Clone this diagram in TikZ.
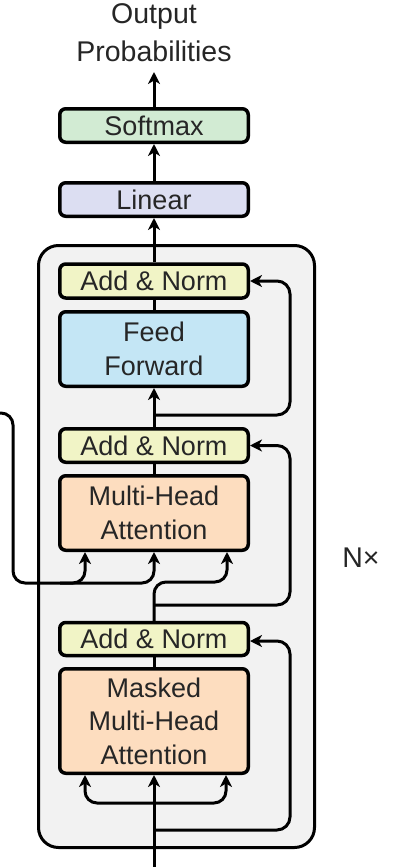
\documentclass[tikz,border=0pt]{standalone}
\usepackage{fontspec}
\setmainfont{Liberation Sans}
\usetikzlibrary{arrows.meta,calc}
\definecolor{txt}{HTML}{262626}
\definecolor{smfill}{HTML}{D2EBD3}
\definecolor{linfill}{HTML}{DCDEF2}
\definecolor{anfill}{HTML}{F1F4C6}
\definecolor{fffill}{HTML}{C4E6F5}
\definecolor{attfill}{HTML}{FDDDBF}
\definecolor{bgfill}{HTML}{F2F2F2}
\tikzset{
  blk/.style={draw=black, line width=3.5pt, rounded corners=6pt, minimum width=188.5pt,
    inner sep=0pt, align=center, text=txt, font=\fontsize{27}{33.5}\selectfont},
  conn/.style={draw=black, line width=3pt},
  arr/.style={conn, -{Stealth[length=12pt,width=12pt,inset=3.5pt]}},
  lbl/.style={text=txt, font=\fontsize{28.5}{38}\selectfont, align=center, inner sep=0pt}
}
\begin{document}
\begin{tikzpicture}[x=1pt,y=-1pt]
\useasboundingbox (0,0) rectangle (411,867);
% outer layer box
\draw[line width=3pt, fill=bgfill, rounded corners=20pt] (38.5,245.5) rectangle (314.5,847.5);
% nodes
\node[lbl] (out) at (154,33) {Output\\Probabilities};
\coordinate (outtip) at (154,72);
\node[blk, fill=smfill, minimum height=33.5pt] (sm) at (154,125.5) {Softmax};
\node[blk, fill=linfill, minimum height=33.5pt] (lin) at (154,199.5) {Linear};
\node[blk, fill=anfill, minimum height=34pt] (an1) at (154,281) {Add \& Norm};
\node[blk, fill=fffill, minimum height=74.5pt] (ff) at (154,349) {Feed\\Forward};
\node[blk, fill=anfill, minimum height=33.5pt] (an2) at (154,445.5) {Add \& Norm};
\node[blk, fill=attfill, minimum height=74.5pt] (mha) at (154,513) {Multi-Head\\Attention};
\node[blk, fill=anfill, minimum height=33pt] (an3) at (154,639) {Add \& Norm};
\node[blk, fill=attfill, minimum height=104.5pt] (mmha) at (154,721) {Masked\\Multi-Head\\Attention};
\node[lbl] (nx) at (361,558) {N×};
% junctions and free ends
\coordinate (j1) at (154,415);
\coordinate (j2) at (154,605);
\coordinate (j3) at (154,830);
\coordinate (j4) at (154,803);
\coordinate (in) at (154,870);
\coordinate (enc) at (-3,413);
% top chain
\draw[arr] (sm) -- (outtip);
\draw[arr] (lin) -- (sm);
\draw[arr] (an1) -- (lin);
\draw[conn] (ff) -- (an1);
\draw[conn] (an2.north) -- (j1);
\draw[arr] (j1) -- (ff.south);
\draw[arr, rounded corners=13pt] (j1) -- (290,415) -- (290,281) -- (an1.east);
% second sublayer
\draw[conn] (mha) -- (an2);
\draw[arr, rounded corners=13pt] (j2) -- (290,605) -- (290,445.5) -- (an2.east);
\draw[arr, rounded corners=12pt] (an3.north) -- (154,582) -- (227,582) -- (mha.south -| 227,0);
\draw[arr, rounded corners=12pt] (enc) -- (13,413) -- (13,583) -- (85,583) -- (mha.south -| 85,0);
\draw[arr, rounded corners=12pt] (60,583) -- (154,583) -- (mha.south);
% third sublayer
\draw[conn] (mmha) -- (an3);
\draw[arr, rounded corners=13pt] (j3) -- (290,830) -- (290,641) -- (an3.east |- 0,641);
\draw[arr] (in) -- (mmha.south);
\draw[arr, rounded corners=12pt] (j4) -- (85,803) -- (mmha.south -| 85,0);
\draw[arr, rounded corners=12pt] (j4) -- (226,803) -- (mmha.south -| 226,0);
\end{tikzpicture}
\end{document}
